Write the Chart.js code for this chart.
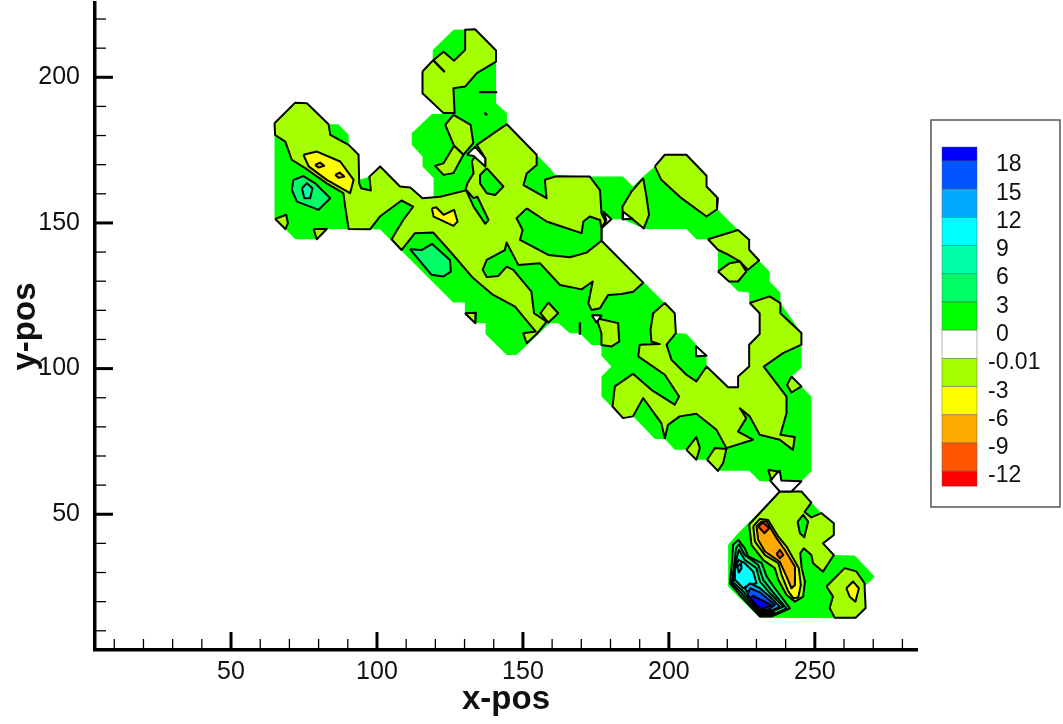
<!DOCTYPE html>
<html><head><meta charset="utf-8">
<style>html,body{margin:0;padding:0;background:#fff}canvas{display:block;filter:blur(.45px)}</style>
<script src="https://cdn.jsdelivr.net/npm/chart.js@4"></script>
</head><body><canvas id="c" width="1063" height="724"></canvas>
<script>
// ----- axis ticks -----
const xMajor=[50,100,150,200,250];
const xMinor=[10,20,30,40,60,70,80,90,110,120,130,140,160,170,180,190,210,220,230,240,260,270,280];
const yMajor=[50,100,150,200];
const yMinor=[10,20,30,40,60,70,80,90,110,120,130,140,160,170,180,190,210,220];
// ----- colour bar -----
const levelLabels=["18","15","12","9","6","3","0","-0.01","-3","-6","-9","-12"];
const levelColors=["#0000ff","#0055ff","#00aaff","#00ffff","#00ffaa","#00ff66","#00ff00","#ffffff","#a6ff00","#ffff00","#ffaa00","#ff5500","#ff0000"];
// ----- contour bands, x,y pairs in data units -----
const baseMain=[[64.9,184.2],[72,191.3],[76,191],[83.4,183.9],[86.8,183.9],[90.3,180.2],[90.3,176.8],[93.7,173.4],[93.9,164.8],[97.7,165.9],[101.1,169.4],[107.9,162.5],[111.4,162.2],[115.6,158.5],[119.4,158.5],[119.4,165.4],[115.6,169.4],[115.6,172.8],[111.9,176.8],[111.9,180.8],[118.8,187.4],[122.8,187.4],[115.6,194.5],[115.6,202],[119.1,205.7],[119.1,209.4],[126.2,216.3],[133.6,216.5],[140.8,209.2],[140.8,191.1],[144.5,187.7],[144.5,183.9],[154.7,173.4],[159.3,168.8],[161,166.5],[172.9,165.9],[184.3,165.9],[187.7,162.5],[191.2,165.9],[195.2,169.4],[198.6,173.4],[206,173.4],[212.9,166.2],[212.9,162.5],[216.8,158.5],[216.8,154.5],[223.7,147.6],[227.5,144.2],[227.5,140.8],[231.1,136.8],[234.5,133.3],[234.5,129.9],[238.2,126.1],[238.2,122.5],[245.4,112.2],[245.4,100.2],[242,97.3],[248.8,90.4],[248.8,64.7],[245.4,61.3],[231.1,61.3],[227.5,64.9],[216.8,64.9],[212.9,68.7],[209.4,68.7],[206,72.1],[202,72.1],[198.6,75.8],[195.2,75.8],[187.7,83.6],[184.3,83],[176.9,90.4],[176.9,97.3],[180.3,100.7],[176.9,104.4],[176.9,108.1],[173.5,108.1],[169.5,112.1],[166.1,112.1],[162.1,115.6],[159.2,115.6],[151.8,108.4],[147.8,104.7],[144.4,104.7],[137.2,111.9],[137.2,115.6],[133.9,115.6],[130.1,119.2],[130.1,122.7],[126.1,122.7],[101,147.8],[82.8,147.9],[79.4,144.4],[72,144.4],[64.9,151.6]];
const innerHole=[[176.9,144.2],[191.2,129.9],[198.6,122.5],[202,119],[202.4,112.2],[206,112],[212.9,104.4],[212.9,100.7],[220.3,93.6],[223.7,93.6],[223.7,97.3],[227.5,100.7],[227.5,108.2],[231.1,111.9],[231.1,119],[227.7,122.5],[227.5,126.1],[223.7,126.5],[216.8,133.3],[216.8,140.8],[212.9,144.4],[209.4,144.4],[206,147.9],[191.7,147.9],[184.3,151.3],[180.3,151.3],[176.9,147.6]];
const baseCluster=[[238,57.8],[245.4,57.8],[248.8,54],[252.2,50.4],[256.2,46.9],[256.5,42.9],[252.8,40],[256.5,36],[263.7,35.8],[270.5,28.6],[267,25.2],[267,17.8],[263.7,14.3],[231.1,14.5],[223.7,21.8],[220.3,25.2],[220.3,39.5],[223.7,43.5]];
const limeMain=[[64.9,184.2],[72,191.3],[76,191.1],[83.4,183.9],[84,180.2],[90.3,176.8],[93.7,173.4],[93.9,163.6],[94.6,161.9],[97.9,161.1],[97.4,165.9],[101.1,169.4],[107.9,162.5],[111.4,162.2],[115.6,158.5],[121.6,159],[130.2,161.1],[131,163.6],[133.1,167.1],[132.5,171.1],[133.6,173],[137.1,169.4],[137.1,172.2],[134.2,176.8],[144.5,183.9],[154.7,173.4],[154.7,169.9],[151.3,167],[150.2,163],[158.1,158.5],[157.5,164.8],[161,165.9],[172.9,165.9],[176.4,161.3],[176.9,153.3],[178.3,150.5],[176.9,148.2],[176.9,143.9],[191.2,129.5],[187.8,126.4],[183.8,125.6],[179.2,125.3],[176.4,120.7],[173.5,120.1],[172.4,122.4],[173.9,129.9],[170.1,127.2],[162.7,128.7],[155.8,136.2],[148.4,135.6],[144.4,143.3],[143.8,140.7],[137.6,137.3],[136.2,133.9],[137.6,131.4],[141.6,131.8],[144.4,135],[146.7,133.9],[152.9,126.4],[153.8,119],[158.1,116.1],[155.2,112.4],[151.3,108.7],[150.1,112.1],[154.4,112.7],[147.3,121.3],[139.8,125.3],[133,131],[125.6,139.6],[119.3,146.7],[113,146.5],[108.4,140.7],[105,144.4],[109,151],[112.4,155.6],[108.4,157.7],[101,152.2],[97.6,147.8],[90.3,147.9],[89.1,155.6],[88.5,160.2],[82.8,163.6],[75.4,168.8],[70.8,171.7],[68.6,177.9],[65.1,180.2]];
const limeDiamond=[[158.7,122.7],[162.1,119],[158.7,115.8],[156,119]];
const limeTri1=[[130.1,119],[133.9,119.2],[133.7,115.6]];
const limePatch=[[175.2,117.3],[182.6,115.6],[183,109.3],[180.4,107.6],[176.9,108.1],[176.9,112.1]];
const limeCornerA=[[65.1,151.4],[68.9,152.8],[69.5,149.9],[68.6,147.9]];
const limeCornerB=[[78.3,147.9],[82.8,147.9],[79.4,144.4]];
const limeTop=[[115.6,202],[119.1,205.7],[122.8,208.8],[126.4,205.7],[130.2,209.4],[130.2,216.3],[133.6,216.5],[140.8,209.2],[140.8,205.4],[134.2,201.4],[130.2,196.8],[126.2,196.2],[126.6,187.7],[122.8,187.7],[115.6,194.5]];
const limeNeck=[[126.2,187.1],[132.1,183.7],[133,177.4],[129.6,173.4],[126.4,176.5],[123.4,183.7]];
const limeFoot=[[126.4,176.5],[129.6,173.4],[126.2,167.1],[122.8,166.5],[119.9,169.6],[122.8,170.5]];
const limeWedge=[[191.2,165.4],[192.3,159.1],[193.2,152.8],[191.4,148.1],[187.2,151.6],[184.1,151.3],[184.1,155.6],[187.2,160.8]];
const limeCap=[[195.2,169.4],[198.6,173.4],[206,173.4],[212.9,166.2],[212.9,162.5],[216.8,158.5],[216.5,154.7],[212.9,152.2],[204.3,158.5],[197.4,164.8]];
const limeArmA=[[213.4,144.4],[223.7,147.6],[227.5,144.2],[227.5,140.8],[230.9,137.1],[227.1,133.9],[224.3,136.8],[220.3,139.1],[216.8,140.8]];
const limeArmB=[[216.8,133.3],[220.8,136.2],[224.3,136.8],[226.5,133.3],[223.7,129.9],[220.6,129.9]];
const limeArm=[[227.7,122.5],[234.5,124.8],[238.2,122.5],[238.2,119],[245.4,112.2],[245.4,108.2],[239.1,105.3],[232.5,100.7],[240.3,90.4],[240.3,84.7],[238.2,77.3],[243.1,76.5],[242.5,72.1],[238,75.6],[231.1,77.3],[227.7,83.6],[224.3,86.4],[226.5,83],[223.7,78.4],[228.8,75.6],[219.7,72.7],[216.3,79],[209.4,84.5],[203.7,83.6],[199.7,80.7],[198.6,76.1],[197.4,81.3],[191.2,89.9],[187.7,83.6],[184.3,83],[180.7,87],[181.5,93.9],[187.7,98.2],[194,92.7],[202,87.6],[203.5,90.4],[198.6,97.9],[189.5,104.2],[190,108.2],[196.9,108.4],[194,109.3],[193.7,113.3],[194.6,119],[198.6,122.5],[202,119],[202.4,112.2],[199.2,108.2],[200.9,103],[206,97.9],[209.4,95.6],[212.9,100.7],[220.3,93.6],[223.7,93.6],[223.7,97.3],[227.5,100.7],[227.5,108.2],[231.1,111.9],[231.1,119]];
const limeSpeck=[[242,97.3],[245.4,93.9],[242,91.8],[240.5,94.4]];
const limeLowA=[[206,72.1],[209.4,76.5],[210.6,72.7],[209.4,68.7]];
const limeLowB=[[213.1,68.7],[215.7,72.7],[219.7,72.4],[218.6,67.6],[216.8,64.9]];
const limeNotch=[[234,65.3],[237.4,64.7],[235.1,61.8]];
const limeCluster=[[227.5,46.5],[238,57.8],[245.4,57.8],[248.8,54],[246.5,50.8],[248.8,48.9],[252.2,50.4],[256.5,46.9],[256.5,42.9],[252.8,40],[256.5,36],[252.8,30.3],[249.4,33.2],[248.8,36],[246.2,38.3],[245,36.6],[245.5,31.5],[246.6,26.9],[246,21.7],[243.2,20],[240.3,22.3],[237.5,27.5],[236.3,31.5],[232.3,34.3],[228.3,39.5]];
const limeBlob=[[254,25.2],[260.2,31.5],[264.2,30.4],[267,26.3],[267.4,17.8],[264,14.5],[256.8,14.5],[255.1,17.8],[256.2,21.8]];
const greenIslandA=[[137.6,168.8],[143.3,162.5],[140.5,159.6],[137.6,160.2],[135.3,163.6],[135.3,166.5]];
const greenSliver=[[130.5,161.4],[133.1,158.5],[134.4,159],[138.2,151],[137.1,149.7],[133.1,155.6]];
const greenLake=[[151.3,155],[147.8,151.6],[149.9,147.6],[149,144.2],[158.7,139],[166.1,138.2],[171.8,139.8],[176.9,143.9],[176.9,148.2],[176.4,151],[172.9,152.2],[170.7,150.5],[170.1,146.5],[165,148.2],[158.1,150.5]];
const greenDiamond=[[244.1,47.5],[246,49.8],[247.7,47.5],[246.4,42.1],[244.9,43.5]];
const midLeft=[[70.8,161.4],[71.4,164.8],[74.8,166.1],[78.8,163.6],[84,158.5],[80,154.5],[72.6,157.3]];
const midCentre=[[111.3,141],[115.3,140.7],[118.9,142.8],[125,137.3],[125.3,133.3],[122.7,131.6],[118.7,132.2]];
const midCluster=[[221.7,34.3],[222,39.5],[223.8,41.2],[226,38.3],[227.2,35.5],[231.8,33.2],[233.5,28.6],[236.3,24.6],[241.5,17.7],[235.2,14.9],[231.2,14.9],[224.3,22.3],[220.9,26.3]];
const midInner=[[222.6,34.3],[223,38.3],[224,39.7],[226,36],[230.6,32.6],[232.3,27.5],[235.7,23.2],[240.3,17.7],[235.2,15.4],[231.2,15.4],[224.9,22.9],[221.5,26.3]];
const tealLeft=[[74.3,161.9],[76,163.6],[77.9,161.9],[77.1,158.5],[75.1,158.5]];
const tealCluster=[[223.2,34.9],[224,37.8],[226,34.3],[230,31.5],[231.2,26.9],[234.6,22.9],[239.2,18.3],[234,16],[231.2,16],[225.5,23.5],[222,26.7]];
const cyanCluster=[[222.6,30.9],[223.8,34.3],[226,33.2],[228.9,30.3],[230,26.3],[227.2,25.7],[225.5,24.6],[222.6,27.5]];
const skyCluster=[[226,24.6],[227.8,26.3],[231.2,24.6],[234.6,21.7],[238,18.3],[234,16.4],[231.2,16.4]];
const skySpot=[[223.4,32],[224.7,33.2],[224.9,31.5],[224,30]];
const azureCluster=[[227,22.3],[227.8,24.6],[231.2,23.2],[236.3,18.9],[233.5,16.8],[231.2,16.8]];
const navyCluster=[[227.8,21.2],[228.9,22],[234,19.4],[235.2,18.7],[231.2,17.5]];
const darkTip=[[230.6,17.5],[234.6,17.2],[236.3,16],[234.6,15.1],[231.5,15.1]];
const yellowLeft=[[74.8,173.4],[79.4,174.5],[87.4,171.1],[92,164.8],[90.8,160.2],[82.8,164.8],[76.6,169.4]];
const yellowCentre=[[118.8,155],[120.3,155.4],[122.8,152.8],[126.4,154.5],[127.6,150.5],[126.2,149],[119.4,152.2]];
const yellowSpot=[[260.8,24.6],[263.1,26.9],[265.1,24.6],[263.9,20],[261.9,21.8]];
const yellowCluster=[[228.9,45.8],[231.2,48.4],[234,48],[237.5,42.3],[240.3,38.9],[244.5,31.5],[245.2,25.7],[244.3,21.4],[242.6,21.2],[240.9,23.5],[238.6,29.2],[237.5,33.2],[232.9,36],[229.5,40.6]];
const orangeDotA=[[78.8,169.9],[80.5,170.7],[81.9,169.6],[80,169]];
const orangeDotB=[[85.7,166.5],[87.2,167.3],[88.8,165.9],[86.8,165.5]];
const orangeCluster=[[230,45.8],[231.8,47.5],[233.5,47.5],[236.9,41.8],[239.7,37.8],[243.2,32],[243.2,25.7],[242,24.6],[240.3,28.6],[238,33.7],[232.9,37.2],[230.6,41.2]];
const redPeak=[[230.6,45.8],[232.3,47.2],[234.4,45.2],[232.7,43.5]];
const redSpot=[[236.9,36.3],[238,37.8],[239.2,36],[238,34.9]];
const whiteHoleA=[[130.8,173.4],[133.6,176.2],[137.1,172.2],[137.1,169.4],[133.1,173]];
const whiteHoleB=[[176.9,148.2],[180.3,151.3],[177.5,153.9],[178.6,151]];
const whiteHoleC=[[173.5,118.4],[176.9,118.2],[175.2,115.8]];
const whiteHoleD=[[184.3,153.9],[187.5,151.4],[184.3,151.3]];
const whiteHoleE=[[209.2,107.8],[212.9,104.4],[209.4,104.2]];
const whiteGap=[[234.5,61.8],[238,65],[238.5,61.6],[245.4,61.3],[242,57.8],[238,57.8]];
const strokeA=[[119.4,205.7],[123,202]];
const strokeB=[[135.3,194.9],[140.8,194.9]];
const strokeC=[[137.1,187.6],[137.5,187.2]];
const strokeD=[[169.5,115.6],[169.5,112]];

const GREEN=levelColors[6],WHITE=levelColors[7],LIME=levelColors[8],YEL=levelColors[9],ORG=levelColors[10],RED=levelColors[11];
const MID=levelColors[5],TEAL=levelColors[4],CYAN=levelColors[3],SKY=levelColors[2],AZ=levelColors[1],NAVY=levelColors[0];
// [points, fill colour, outlined?] bottom to top
const layers=[
 [baseMain,GREEN,false],[baseCluster,GREEN,false],[innerHole,WHITE,false],
 [limeMain,LIME,true],[limeDiamond,LIME,true],[limeTri1,LIME,true],[limePatch,LIME,true],[limeCornerA,LIME,true],[limeCornerB,LIME,true],
 [limeTop,LIME,true],[limeNeck,LIME,true],[limeFoot,LIME,true],[limeWedge,LIME,true],[limeCap,LIME,true],[limeArmA,LIME,true],[limeArmB,LIME,true],[limeArm,LIME,true],
 [limeSpeck,LIME,true],[limeLowA,LIME,true],[limeLowB,LIME,true],[limeCluster,LIME,true],[limeBlob,LIME,true],
 [greenIslandA,GREEN,true],[greenSliver,GREEN,true],[greenLake,GREEN,true],[greenDiamond,GREEN,true],
 [midLeft,MID,true],[midCentre,MID,true],[midCluster,MID,true],[midInner,MID,true],[tealLeft,TEAL,true],[tealCluster,TEAL,true],
 [cyanCluster,CYAN,true],[skyCluster,SKY,true],[skySpot,SKY,true],[azureCluster,AZ,true],[navyCluster,NAVY,true],[darkTip,"#000000",true],
 [yellowLeft,YEL,true],[yellowCentre,YEL,true],[yellowSpot,YEL,true],[yellowCluster,YEL,true],
 [orangeDotA,ORG,true],[orangeDotB,ORG,true],[orangeCluster,ORG,true],[redPeak,RED,true],[redSpot,RED,true],
 [whiteHoleA,WHITE,true],[whiteHoleB,WHITE,true],[whiteHoleC,WHITE,true],[whiteHoleD,WHITE,true],[whiteHoleE,WHITE,true],[whiteGap,WHITE,true],[limeNotch,LIME,true]
];
const strokes=[strokeA,strokeB,strokeC,strokeD];
const toPts=a=>a.map(p=>({x:p[0],y:p[1]}));
const datasets=[];
layers.forEach(l=>{
  const pts=toPts(l[0]);pts.push(pts[0]);
  datasets.push({data:pts,showLine:true,fill:'shape',backgroundColor:l[1],borderColor:'#000',borderWidth:l[2]?2:0,pointRadius:0,tension:0,borderJoinStyle:'round'});
});
strokes.forEach(s=>datasets.push({data:toPts(s),showLine:true,fill:false,borderColor:'#000',borderWidth:2.4,pointRadius:0,tension:0,borderCapStyle:'round'}));
datasets.forEach((d,i)=>{d.order=datasets.length-i;});

const FONT='"Liberation Sans",Arial,sans-serif';
const inwardTicks={id:'inwardTicks',afterDatasetsDraw(chart){
  const {ctx,scales:{x,y}}=chart;ctx.save();ctx.strokeStyle='#000';
  const mark=(v,len,w,isX)=>{ctx.lineWidth=w;ctx.beginPath();
    if(isX){const p=x.getPixelForValue(v);ctx.moveTo(p,y.bottom);ctx.lineTo(p,y.bottom-len);}
    else{const p=y.getPixelForValue(v);ctx.moveTo(x.left,p);ctx.lineTo(x.left+len,p);}
    ctx.stroke();};
  xMinor.forEach(v=>mark(v,11,1.3,true));xMajor.forEach(v=>mark(v,18,3,true));
  yMinor.forEach(v=>mark(v,11,1.3,false));yMajor.forEach(v=>mark(v,18,3,false));
  ctx.restore();}};
const colorBar={id:'colorBar',afterDraw(chart){
  const c=chart.ctx;c.save();
  c.strokeStyle='#555';c.lineWidth=1.5;c.strokeRect(931,120,129,387);
  const top=147,first=14,step=28.2;
  levelColors.forEach((col,i)=>{
    const y0=i===0?top:top+first+(i-1)*step;
    const h=i===0?first:(i===levelColors.length-1?15:step);
    c.fillStyle=col;c.fillRect(942,y0,35,h);
    c.strokeStyle='rgba(90,90,90,.55)';c.lineWidth=.8;c.strokeRect(942,y0,35,h);
  });
  c.fillStyle='#111';c.font='23px '+FONT;c.textBaseline='middle';c.textAlign='left';
  levelLabels.forEach((t,i)=>c.fillText(t,t[0]==='-'?988:996,165+i*28.27));
  c.restore();}};

new Chart(document.getElementById('c'),{
  type:'scatter',data:{datasets},plugins:[inwardTicks,colorBar],
  options:{responsive:false,animation:false,events:[],
    layout:{padding:{top:3,right:146,left:0,bottom:0}},
    plugins:{legend:{display:false},tooltip:{enabled:false},filler:{propagate:false,drawTime:'beforeDatasetDraw'}},
    scales:{
      x:{type:'linear',min:3.4,max:285,
        afterBuildTicks(s){s.ticks=xMajor.map(v=>({value:v}));},
        afterFit(s){s.height=74;s.paddingLeft=0;s.paddingRight=0;},
        grid:{display:false,drawTicks:false},border:{display:true,color:'#000',width:3.5},
        ticks:{padding:7,color:'#111',font:{family:FONT,size:25},maxRotation:0,autoSkip:false},
        title:{display:true,text:'x-pos',color:'#111',font:{family:FONT,size:33,weight:'bold'},padding:{top:0,bottom:4}}},
      y:{type:'linear',min:3.4,max:225.5,
        afterBuildTicks(s){s.ticks=yMajor.map(v=>({value:v}));},
        afterFit(s){s.width=95;s.paddingTop=0;s.paddingBottom=0;},
        grid:{display:false,drawTicks:false},border:{display:true,color:'#000',width:3.5},
        ticks:{padding:15,color:'#111',font:{family:FONT,size:25},autoSkip:false},
        title:{display:true,text:'y-pos',color:'#111',font:{family:FONT,size:33,weight:'bold'},padding:{top:6,bottom:0}}}
    }}
});
</script></body></html>
